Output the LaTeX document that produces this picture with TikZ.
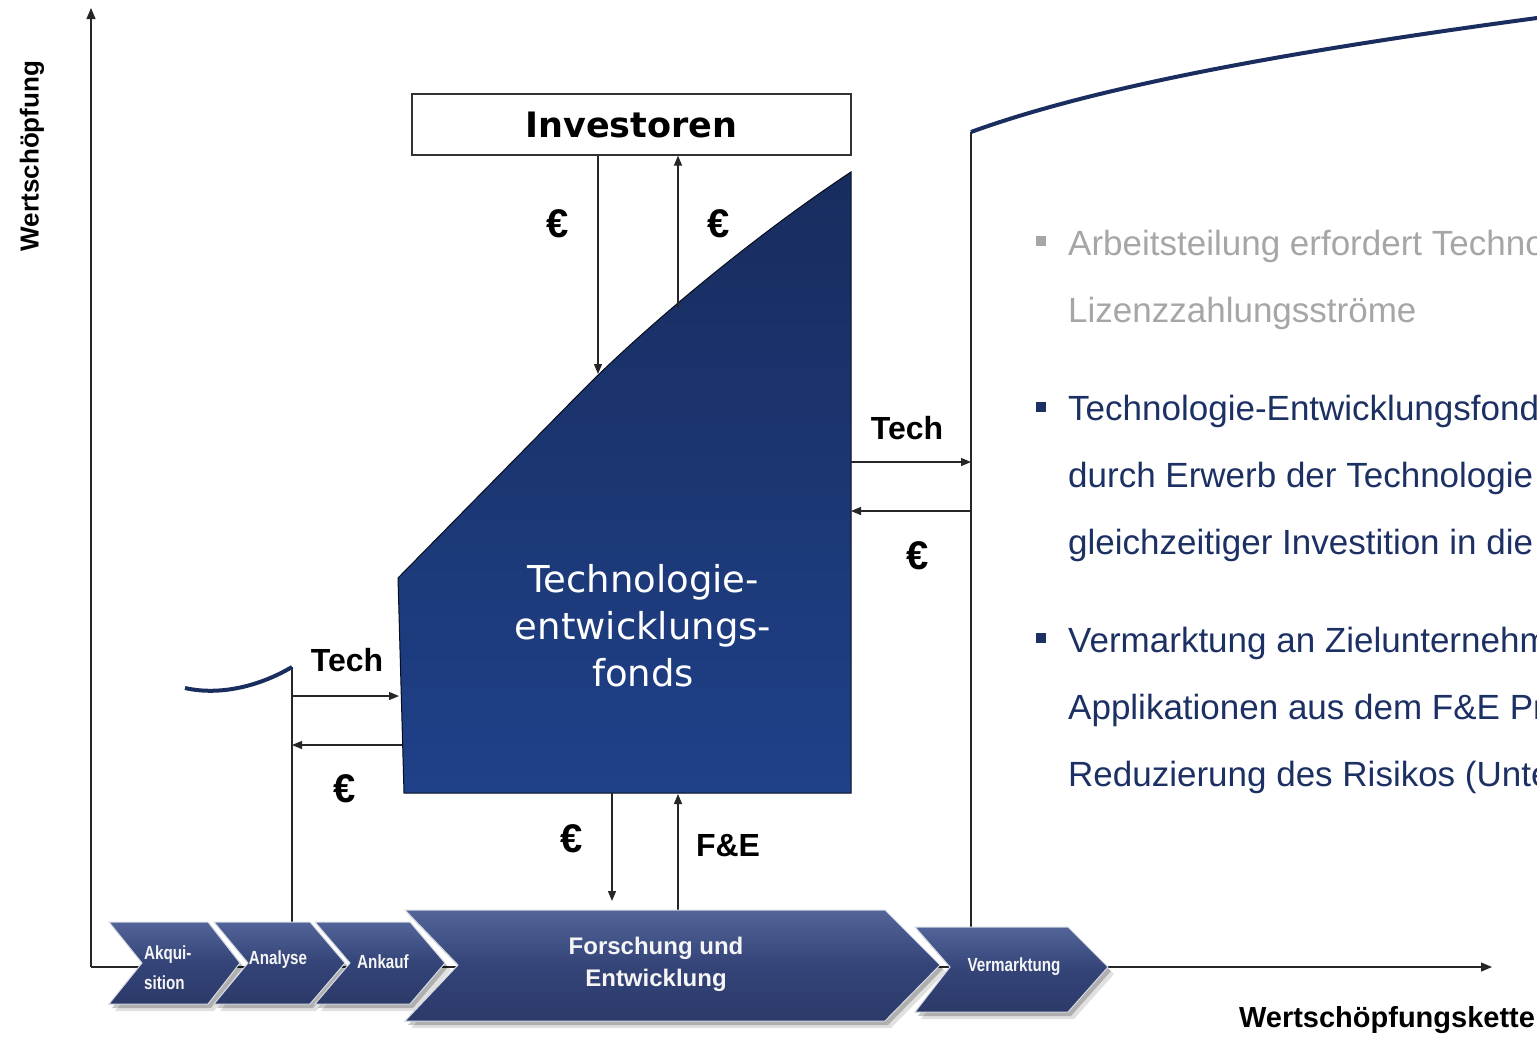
\documentclass[tikz,border=0pt]{standalone}
\usepackage{fontspec}
\setmainfont{Liberation Sans}
\newfontfamily\dejavu{DejaVu Sans}
\usetikzlibrary{arrows.meta}
\definecolor{navy}{RGB}{25,45,95}
\definecolor{fundtop}{RGB}{24,44,94}
\definecolor{fundbot}{RGB}{31,65,137}
\definecolor{chevtop}{RGB}{82,100,152}
\definecolor{chevmid}{RGB}{52,68,120}
\definecolor{chevbot}{RGB}{44,58,105}
\definecolor{txtgray}{RGB}{166,166,166}
\definecolor{txtnavy}{RGB}{28,48,100}
\begin{document}
\begin{tikzpicture}[x=1pt,y=-1pt,
  thinline/.style={line width=1.2pt, black!85},
  arr/.style={thinline, -{Triangle[length=10pt,width=8pt]}},
  axisarr/.style={thinline, -{Triangle[length=11pt,width=9pt]}},
  valcurve/.style={line width=4pt, navy},
  lbl/.style={font=\fontsize{32}{36}\selectfont\bfseries, inner sep=0pt},
  eur/.style={font=\fontsize{40}{44}\selectfont\bfseries, inner sep=0pt},
  chev/.style={top color=chevtop, bottom color=chevbot, middle color=chevmid,
     draw=white!80!chevmid, line width=1pt,
     preaction={fill=black, opacity=0.12, transform canvas={xshift=6pt,yshift=-7pt}},
     preaction={fill=black, opacity=0.22, transform canvas={xshift=3pt,yshift=-4pt}}},
  chevtxt/.style={text=white!92!gray, font=\fontsize{19}{30}\selectfont\bfseries, inner sep=0pt},
  bigchevtxt/.style={text=white!92!gray, font=\fontsize{24}{32}\selectfont\bfseries, inner sep=0pt, align=center},
  bul/.style={fill, minimum size=10pt, inner sep=0pt},
  rtxt/.style={anchor=base west, inner sep=0pt, font=\fontsize{35}{40}\selectfont}
]
\useasboundingbox (0,0) rectangle (1537,1039);

% axes
\coordinate (origin) at (91,967);
\coordinate (ytip) at (91,8);
\coordinate (xtip) at (1492,967);
\draw[axisarr] (origin) -- (ytip);
\draw[axisarr] (origin) -- (xtip);
\node[rotate=90, font=\fontsize{26}{30}\selectfont\bfseries, inner sep=0pt] (ylab) at (32,156) {Wertschöpfung};
\node[font=\fontsize{29}{32}\selectfont\bfseries, inner sep=0pt] (xlab) at (1387,1020) {Wertschöpfungskette};

% value curves
\coordinate (lvtop) at (292,667);
\coordinate (lvstart) at (185,688);
\coordinate (lvbot) at (292,922);
\coordinate (rvtop) at (971,132);
\coordinate (rvend) at (1537,18);
\coordinate (rvbot) at (971,927);
\draw[thinline] (lvtop) -- (lvbot);
\draw[thinline] (rvtop) -- (rvbot);
\draw[valcurve] (lvstart) .. controls (220,696) and (260,686) .. (lvtop);
\draw[valcurve] (rvtop) .. controls (1100,85) and (1300,50) .. (rvend);

% fund shape
\path[top color=fundtop, bottom color=fundbot, draw=black!70!navy, line width=1pt]
  (398,578) -- (580,393) .. controls (650,322) and (760,232) .. (851,172) -- (851,793) -- (404,793) -- cycle;
\node[text=white, font=\dejavu\fontsize{37}{47}\selectfont, align=center, inner sep=0pt] (fund) at (643,626)
  {Technologie-\\entwicklungs-\\fonds};

% investors
\node[draw=black!80, line width=1.2pt, minimum width=439pt, minimum height=61pt, inner sep=0pt,
  font=\dejavu\bfseries\fontsize{35}{40}\selectfont] (inv) at (631.5,124.5) {Investoren};
\coordinate (fin) at (598,374);
\coordinate (fout) at (678,308);
\draw[arr] (inv.south -| fin) -- (fin);
\draw[arr] (fout) -- (inv.south -| fout);
\node[eur] (e1) at (558,224) {€};
\node[eur] (e2) at (719,224) {€};

% right exchange
\coordinate (fr1) at (851,462);
\coordinate (rv1) at (971,462);
\coordinate (rv2) at (971,511);
\coordinate (fr2) at (851,511);
\draw[arr] (fr1) -- (rv1);
\draw[arr] (rv2) -- (fr2);
\node[lbl] (t1) at (907,428) {Tech};
\node[eur] (e3) at (918,556) {€};

% left exchange
\coordinate (lv1) at (292,696);
\coordinate (fl1) at (399,696);
\coordinate (fl2) at (402,745);
\coordinate (lv2) at (292,745);
\draw[arr] (lv1) -- (fl1);
\draw[arr] (fl2) -- (lv2);
\node[lbl] (t2) at (347,660) {Tech};
\node[eur] (e4) at (345,789) {€};

% bottom exchange
\coordinate (fb1) at (612,793);
\coordinate (cb1) at (612,901);
\coordinate (cb2) at (678,910);
\coordinate (fb2) at (678,794);
\draw[arr] (fb1) -- (cb1);
\draw[arr] (cb2) -- (fb2);
\node[eur] (e5) at (572,839) {€};
\node[lbl] (fe) at (728,846) {F\&E};

% chevrons
\path[chev] (109,922) -- (208,922) -- (240,963) -- (208,1004) -- (109,1004) -- (142,963) -- cycle;
\path[chev] (214,922) -- (310,922) -- (345,963) -- (310,1004) -- (214,1004) -- (248,963) -- cycle;
\path[chev] (315,922) -- (410,922) -- (445,963) -- (410,1004) -- (315,1004) -- (350,963) -- cycle;
\path[chev] (405,910) -- (885,910) -- (940,965) -- (885,1021) -- (405,1021) -- (458,965) -- cycle;
\path[chev] (915,927) -- (1068,927) -- (1108,967) -- (1068,1012) -- (915,1012) -- (950,967) -- cycle;

\node[chevtxt, anchor=west] (c1) at (144,968) {\scalebox{0.8}[1]{\renewcommand\arraystretch{1}\begin{tabular}{@{}l@{}}Akqui-\\sition\end{tabular}}};
\node[chevtxt] (c2) at (278,960) {\scalebox{0.8}[1]{Analyse}};
\node[chevtxt] (c3) at (383,962) {\scalebox{0.8}[1]{Ankauf}};
\node[bigchevtxt] (c4) at (656,964) {Forschung und\\Entwicklung};
\node[chevtxt] (c5) at (1014,967) {\scalebox{0.8}[1]{Vermarktung}};

% right text
\begin{scope}
\clip (1000,150) rectangle (1537,860);
\node[bul, txtgray] (b1) at (1041,241) {};
\node[rtxt, text=txtgray] (r1) at (1068,255) {Arbeitsteilung erfordert Technologie-};
\node[rtxt, text=txtgray] (r2) at (1068,322) {Lizenzzahlungsströme};
\node[bul, txtnavy] (b2) at (1041,407) {};
\node[rtxt, text=txtnavy] (r3) at (1068,420) {Technologie-Entwicklungsfonds};
\node[rtxt, text=txtnavy] (r4) at (1068,487) {durch Erwerb der Technologie};
\node[rtxt, text=txtnavy] (r5) at (1068,554) {gleichzeitiger Investition in die};
\node[bul, txtnavy] (b3) at (1041,638) {};
\node[rtxt, text=txtnavy] (r6) at (1068,652) {Vermarktung an Zielunternehmen};
\node[rtxt, text=txtnavy] (r7) at (1068,719) {Applikationen aus dem F\&E Prozess};
\node[rtxt, text=txtnavy] (r8) at (1068,786) {Reduzierung des Risikos (Unternehmen};
\end{scope}
\end{tikzpicture}
\end{document}
